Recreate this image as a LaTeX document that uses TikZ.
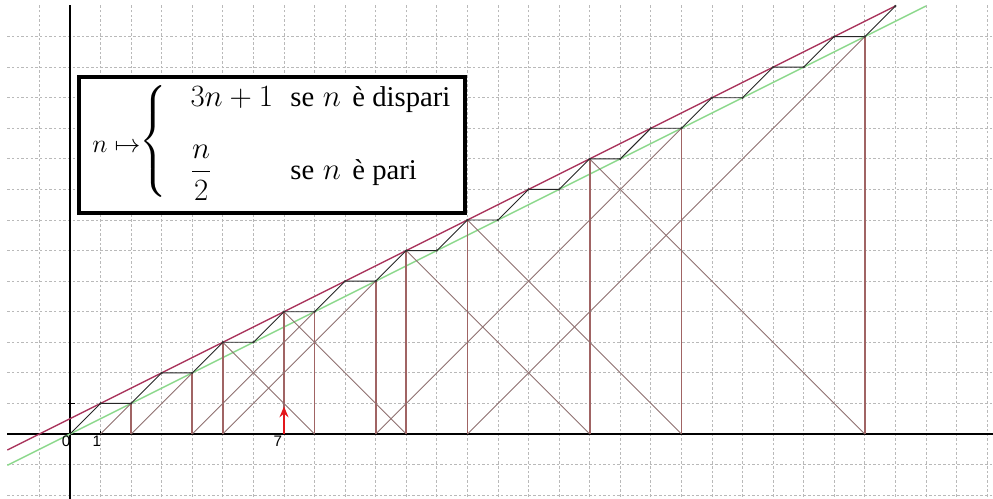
\documentclass[tikz,border=0pt]{standalone}
\usepackage{amsmath}
\usepackage{fontspec}
\setmainfont{Liberation Serif}
\setsansfont{Liberation Sans}
\usetikzlibrary{arrows.meta,positioning}
\definecolor{PlotGrid}{HTML}{B9B9B9}
\definecolor{PlotRed}{HTML}{A8325A}
\definecolor{PlotGreen}{HTML}{8CD88C}
\definecolor{PlotPath}{HTML}{A06464}
\definecolor{PlotCross}{HTML}{8E6F6F}
\definecolor{PlotArrow}{HTML}{E3161B}
\tikzset{>=Stealth,gridline/.style={PlotGrid,line width=.45pt,dash pattern=on 1.4pt off 1.2pt},
 axisline/.style={black,line width=.7pt},riseline/.style={PlotPath,line width=1pt},
 fallline/.style={PlotCross,line width=.5pt},stairline/.style={black!85,line width=.5pt},
 formula/.style={inner sep=0pt,font=\fontsize{16}{19}\selectfont},
 ticklabel/.style={inner sep=0pt,font=\sffamily\fontsize{8.5}{10}\selectfont}}
\begin{document}
\begin{tikzpicture}[x=6mm,y=6mm]
\useasboundingbox (-2.29,-2.126) rectangle (30.193,14.197);
\foreach \x in {-1,...,30}\draw[gridline] (\x,-2.2)--(\x,14.04);
\foreach \y in {-2,...,13}\draw[gridline] (-2.05,\y)--(30.3,\y);
\draw[axisline] (-2.05,0)--(30.3,0);
\draw[axisline] (0,-2.2)--(0,14.04);
\draw[axisline] (-.06,1)--(.16,1);
\draw[axisline] (1,0)--(1,.1);
\foreach \k in {0,...,14}{
 \pgfmathtruncatemacro\ev{2*\k}\pgfmathtruncatemacro\od{2*\k+1}
 \coordinate (p\ev) at (\ev,\k);
 \coordinate (p\od) at (\od,\k+1);}
\foreach \n in {1,...,26}\coordinate (a\n) at (\n,0);
\coordinate (redstart) at (-2.05,-.525);
\coordinate (greenstart) at (-2.05,-1.025);
\draw[PlotRed,line width=.75pt] (redstart)--(p27);
\draw[PlotGreen,line width=.75pt] (greenstart)--(p28);
\foreach \n in {7,11,17,26,13,20,10,5,8,4,2}\draw[riseline] (a\n)--(p\n);
\foreach \n/\m in {7/11,11/17,17/26,26/13,13/20,20/10,10/5,5/8,8/4,4/2,2/1}\draw[fallline] (p\n)--(a\m);
\draw[stairline] (p0) foreach \i in {1,...,27}{--(p\i)};
\foreach \i in {1,...,27}\fill[black!80] (p\i) circle (.7pt);
\coordinate (arrowtip) at (7,.9);
\draw[PlotArrow,line width=1.3pt,-{Stealth[length=6pt,width=5pt]}] (a7)--(arrowtip);
\node[ticklabel] (lab0) at (-.13,-.25) {0};
\node[ticklabel] (lab1) at (.88,-.25) {1};
\node[ticklabel] (lab7) at (6.8,-.25) {7};
\node[draw,line width=2.2pt,fill=white,minimum width=7.58cm,minimum height=2.67cm,inner sep=0pt] (legend) at (6.615,9.45) {};
\node[formula,font=\fontsize{14}{17}\selectfont,anchor=west] (maparrow) at (.72,9.39) {$n\mapsto$};
\node[formula] (brace) at (2.76,9.5) {$\left\{\vrule height 1.02cm depth 1.02cm width 0pt\right.$};
\node[formula,anchor=base west] (oddrule) at (3.93,10.70) {$3n+1$};
\node[formula,anchor=base west] (oddcase) at (7.2,10.70) {se\hspace{.3em}$n$\hspace{.4em}è dispari};
\node[formula] (evenrule) at (4.29,8.54) {$\dfrac{n}{2}$};
\node[formula,anchor=base west] (evencase) at (7.2,8.31) {se\hspace{.3em}$n$\hspace{.4em}è pari};
\end{tikzpicture}
\end{document}
